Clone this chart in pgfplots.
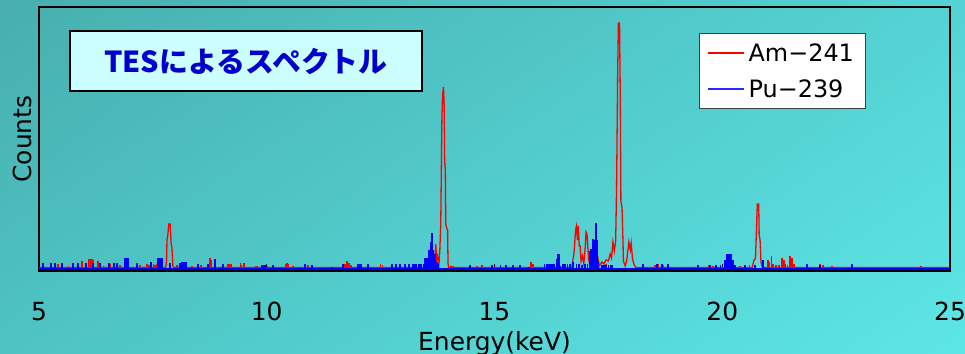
\documentclass[border=0pt]{standalone}
\usepackage{fontspec}
\setmainfont{DejaVu Sans}
\newfontfamily\jp{Noto Sans CJK JP}
\usepackage{pgfplots}
\pgfplotsset{compat=1.18}
\usetikzlibrary{shadings}
\definecolor{bgA}{RGB}{72,174,175}
\definecolor{bgB}{RGB}{85,211,212}
\definecolor{bgC}{RGB}{78,195,195}
\definecolor{bgD}{RGB}{93,230,230}
\definecolor{titlefill}{RGB}{204,255,255}
\definecolor{titletext}{RGB}{0,0,204}
\definecolor{legblue}{RGB}{40,40,255}
\begin{document}
\begin{tikzpicture}
\shade[upper left=bgA, upper right=bgB, lower left=bgC, lower right=bgD] (-39bp,-83bp) rectangle (926bp,271bp);
\begin{axis}[at={(0,0)}, anchor=south west, scale only axis,
  width=911bp, height=264bp,
  xmin=5, xmax=25, ymin=-1, ymax=263,
  xtick={5,10,15,20,25}, ytick=\empty,
  xtick pos=left, tick align=inside, major tick length=7bp,
  tick style={black, line width=0.6bp},
  axis line style={black, line width=2.5bp},
  /pgf/number format/assume math mode=true,
  ticklabel style={font=\fontsize{25}{30}\selectfont},
  xticklabel style={anchor=base, yshift=-49bp},
  legend style={at={(rel axis cs:0.7245,0.9015)}, anchor=north west,
    draw=black!75, line width=0.8bp, fill=white,
    font=\fontsize{24}{29}\selectfont,
    inner xsep=8bp, inner ysep=3bp, row sep=3bp,
    nodes={inner xsep=3.5bp, inner ysep=7bp}},
  legend cell align=left,
  legend image code/.code={\draw[#1, line width=1.7bp] (0bp,0bp) -- (36bp,0bp);},
]
% Am-241 main line
\addplot[color=red, line width=1.3bp] coordinates {
(5,2.5) (7.78,2.5) (7.80,8) (7.81,30) (7.83,36) (7.85,46) (7.88,46) (7.90,27) (7.92,22) (7.94,4) (7.96,2.5)
(13.60,2.5) (13.66,12) (13.68,4) (13.71,26) (13.73,10) (13.75,14) (13.78,6) (13.80,20) (13.82,46) (13.845,150) (13.86,175) (13.88,183) (13.895,165) (13.905,110) (13.92,100) (13.93,46) (13.95,42) (13.97,40) (13.98,6) (14.00,2.5)
(16.70,2.5) (16.75,19) (16.78,40) (16.80,44) (16.82,30) (16.84,44) (16.86,24) (16.88,24) (16.90,9) (16.93,14) (16.96,6) (16.99,22) (17.01,38) (17.03,36) (17.05,22) (17.07,10) (17.10,4) (17.14,8) (17.18,4) (17.27,12) (17.30,4) (17.36,8) (17.40,6) (17.45,10) (17.50,9) (17.54,16) (17.57,12) (17.60,28) (17.63,19) (17.66,29) (17.68,82) (17.705,200) (17.72,247) (17.745,247) (17.76,180) (17.775,69) (17.80,62) (17.82,30) (17.83,9) (17.87,4) (17.90,9) (17.95,28) (17.98,20) (18.00,27) (18.03,11) (18.06,6) (18.10,2.5)
(20.66,2.5) (20.69,9) (20.73,12) (20.75,39) (20.77,66) (20.80,66) (20.81,36) (20.83,30) (20.85,8) (20.88,2.5)
(25,2.5)
};
\addlegendentry{Am−241}
% Pu-239 baseline
\addplot[color=legblue, line width=2.5bp] coordinates {(5,1) (25,1)};
\addlegendentry{Pu−239}
% Am-241 noise
\addplot[color=red, ycomb, line width=1.6bp, forget plot] coordinates {
(5.20,3) (5.42,6) (5.65,4) (5.80,3) (5.94,9) (6.10,11) (6.12,11) (6.14,11) (6.16,11) (6.18,10) (6.30,9) (6.42,4) (6.56,6) (6.78,5) (6.95,4) (7.10,3) (7.22,5) (7.37,6) (7.41,5) (7.46,7) (7.51,6) (7.55,5) (7.59,6)
(8.03,5) (8.27,3) (8.36,4) (8.45,3) (8.55,5) (8.64,3) (8.76,12) (8.79,10) (8.94,3) (9.14,6) (9.17,6) (9.22,6) (9.42,7) (9.45,5) (9.50,7) (9.76,4) (9.80,4) (10.02,4) (10.25,3) (10.41,6) (10.44,7) (10.48,6) (10.58,4) (10.75,3) (10.91,5) (11.02,3) (11.30,3) (11.54,3) (11.72,6) (11.76,9) (11.80,7) (11.85,5)
(12.11,3) (12.25,3) (12.50,6) (12.54,5) (12.65,3) (12.82,3) (13.00,3) (13.14,3) (13.36,4) (14.05,4) (14.09,4) (14.26,3) (14.45,3) (14.62,4) (14.72,5) (14.86,3) (15.10,3) (15.30,3) (15.80,8) (15.84,6) (15.95,3) (16.05,3) (16.20,3) (16.55,4) (16.65,3) (17.45,6)
(18.19,3) (18.30,3) (18.52,5) (18.60,6) (18.70,5) (18.80,6) (19.30,3) (19.70,5) (19.80,4) (19.88,3) (20.39,4) (20.46,3) (20.60,5) (21.00,10) (21.04,8) (21.08,14) (21.12,6) (21.18,5) (21.25,5) (21.31,12) (21.35,10) (21.38,6) (21.43,5) (21.49,14) (21.53,12) (21.58,6) (21.70,3) (22.15,6) (22.21,5) (22.41,4) (24.36,4)
};
% Pu-239 baseline again, on top of the red noise
\addplot[color=blue, line width=2.5bp, forget plot] coordinates {(5,1) (25,1)};
% Pu-239 counts
\addplot[color=blue, ycomb, line width=1.7bp, forget plot] coordinates {
(5.09,7) (5.26,7) (5.35,7) (5.50,7) (5.75,7) (5.86,7) (6.03,7) (6.19,7) (6.34,7) (6.54,7) (6.65,7) (6.71,7) (6.89,12) (6.92,12) (6.95,12) (7.15,7) (7.46,8) (7.61,12) (7.64,12) (7.67,12) (7.70,12) (7.88,7)
(8.10,7) (8.14,8) (8.17,8) (8.20,8) (8.23,8) (8.49,6) (8.71,6) (8.86,11) (9.04,6) (9.90,5) (9.93,5) (9.96,5) (10.14,5) (10.84,6) (10.99,5) (11.43,3) (11.67,6)
(12.00,6) (12.04,6) (12.07,6) (12.22,6) (12.75,6) (12.84,6) (12.93,6) (13.04,6) (13.12,6) (13.21,6) (13.25,6) (13.29,6) (13.33,6) (13.36,6) (13.40,6)
(13.45,6) (13.47,12) (13.49,12) (13.51,8) (13.53,12) (13.55,10) (13.56,20) (13.58,14) (13.60,20) (13.61,28) (13.62,33) (13.63,37) (13.645,20) (13.66,14) (13.67,12) (13.69,16) (13.71,8) (13.73,8) (13.75,6) (13.77,6)
(14.46,5) (14.95,5) (15.13,5) (15.26,5) (15.41,5) (15.56,5) (15.75,3)
(16.10,6) (16.14,6) (16.18,6) (16.22,6) (16.26,6) (16.30,6) (16.37,11) (16.39,16) (16.41,16) (16.43,16) (16.45,4) (16.50,6) (16.55,6) (16.60,6) (16.65,6) (16.72,8) (16.80,6) (16.86,6) (16.92,5) (16.98,6) (17.04,6)
(17.10,19) (17.12,21) (17.14,21) (17.16,31) (17.18,18) (17.20,30) (17.215,40) (17.23,47) (17.245,30) (17.26,11) (17.28,9)
(17.36,5) (17.40,5) (17.45,5) (17.50,5) (17.55,5) (17.58,5)
(18.26,6) (18.57,6) (18.68,6) (18.81,6) (19.47,5) (19.73,5) (19.87,5) (19.96,5)
(20.05,10) (20.07,10) (20.09,10) (20.11,16) (20.13,16) (20.15,16) (20.17,16) (20.19,16) (20.21,10) (20.23,10) (20.25,10) (20.28,5)
(20.50,5) (20.72,5) (20.89,10) (21.86,6) (22.15,5) (22.85,6)
};
\end{axis}
\node[draw=black, line width=2bp, fill=titlefill, minimum width=352bp, minimum height=60bp, inner sep=0pt, font=\jp\fontsize{29}{34}\selectfont\bfseries, text=titletext] at (207bp,210bp) {TESによるスペクトル};
\node[rotate=90, font=\fontsize{25}{30}\selectfont, anchor=center] at (-17bp,132bp) {Counts};
\node[font=\fontsize{25}{30}\selectfont, anchor=base] at (455.5bp,-79bp) {Energy(keV)};
\pgfresetboundingbox
\path[use as bounding box] (-39bp,-83bp) rectangle (926bp,271bp);
\end{tikzpicture}
\end{document}
